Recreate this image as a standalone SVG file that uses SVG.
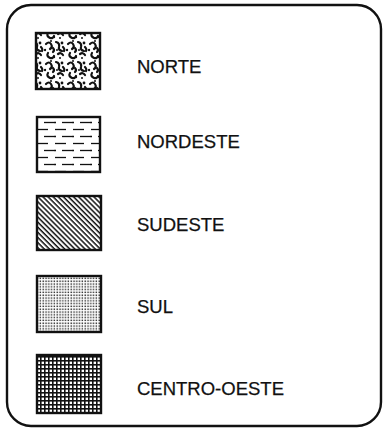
<svg xmlns="http://www.w3.org/2000/svg" width="383" height="429" viewBox="0 0 383 429">
<style>
.lbl{font-family:"Liberation Sans","DejaVu Sans",sans-serif;font-size:18.5px;fill:#111;stroke:#111;stroke-width:0.25}
.sw{stroke:#111;stroke-width:2.4;}
</style>
<defs>
<pattern id="pNorte" width="22" height="20" patternUnits="userSpaceOnUse">
<rect width="22" height="20" fill="#fff"/>
<g fill="none" stroke="#111" stroke-width="2.2" stroke-linecap="round">
<path d="M2 4 q3 -3 5 0 q2 3 -1 5"/>
<path d="M12 2 q4 1 3 5 q-1 3 3 4"/>
<path d="M4 13 q-2 3 2 5 q3 1 4 -2"/>
<path d="M14 14 q3 -2 5 1"/>
<path d="M9 8 q2 2 0 4"/>
<path d="M19 7 q2 2 1 4"/>
</g>
<g fill="#111">
<circle cx="18" cy="3" r="1.4"/><circle cx="10" cy="17" r="1.2"/><circle cx="1" cy="10" r="1.2"/><circle cx="16" cy="18" r="1"/><circle cx="7" cy="1" r="1"/><circle cx="13" cy="10" r="1"/>
</g>
</pattern>
<pattern id="pNordeste2" width="18" height="14" patternUnits="userSpaceOnUse">
<rect width="18" height="14" fill="#fff"/>
<line x1="1" y1="3.5" x2="12" y2="3.5" stroke="#111" stroke-width="1.3"/>
<line x1="8" y1="10.5" x2="18" y2="10.5" stroke="#111" stroke-width="1.3"/>
<line x1="0" y1="10.5" x2="2" y2="10.5" stroke="#111" stroke-width="1.3"/>
</pattern>
<pattern id="pSudeste" width="3.6" height="3.6" patternUnits="userSpaceOnUse" patternTransform="rotate(45)">
<rect width="3.6" height="3.6" fill="#fff"/>
<rect width="3.6" height="1.5" fill="#111"/>
</pattern>
<pattern id="pSul" width="2.8" height="2.8" patternUnits="userSpaceOnUse">
<rect width="2.8" height="2.8" fill="#fff"/>
<rect x="0.5" y="0.5" width="1.4" height="1.4" fill="#222"/>
</pattern>
<pattern id="pCentro" width="4" height="4" patternUnits="userSpaceOnUse">
<rect width="4" height="4" fill="#fff"/>
<rect width="4" height="1.6" fill="#111"/>
<rect width="1.6" height="4" fill="#111"/>
</pattern>
</defs>
<rect x="7" y="5" width="374" height="421" rx="24" ry="24" fill="#fff" stroke="#111" stroke-width="2.4"/>
<g id="norte">
<rect class="sw" x="36" y="33" width="64" height="56" fill="url(#pNorte)"/>
<text class="lbl" x="137" y="73">NORTE</text>
</g>
<g id="nordeste">
<rect class="sw" x="37" y="117" width="63" height="55" fill="url(#pNordeste2)"/>
<text class="lbl" x="137" y="148">NORDESTE</text>
</g>
<g id="sudeste">
<rect class="sw" x="37" y="196" width="64" height="54" fill="url(#pSudeste)"/>
<text class="lbl" x="137" y="231">SUDESTE</text>
</g>
<g id="sul">
<rect class="sw" x="37" y="276" width="64" height="56" fill="url(#pSul)"/>
<text class="lbl" x="137" y="313">SUL</text>
</g>
<g id="centro-oeste">
<rect class="sw" x="37" y="355" width="64" height="58" fill="url(#pCentro)"/>
<text class="lbl" x="137" y="395">CENTRO-OESTE</text>
</g>
</svg>
